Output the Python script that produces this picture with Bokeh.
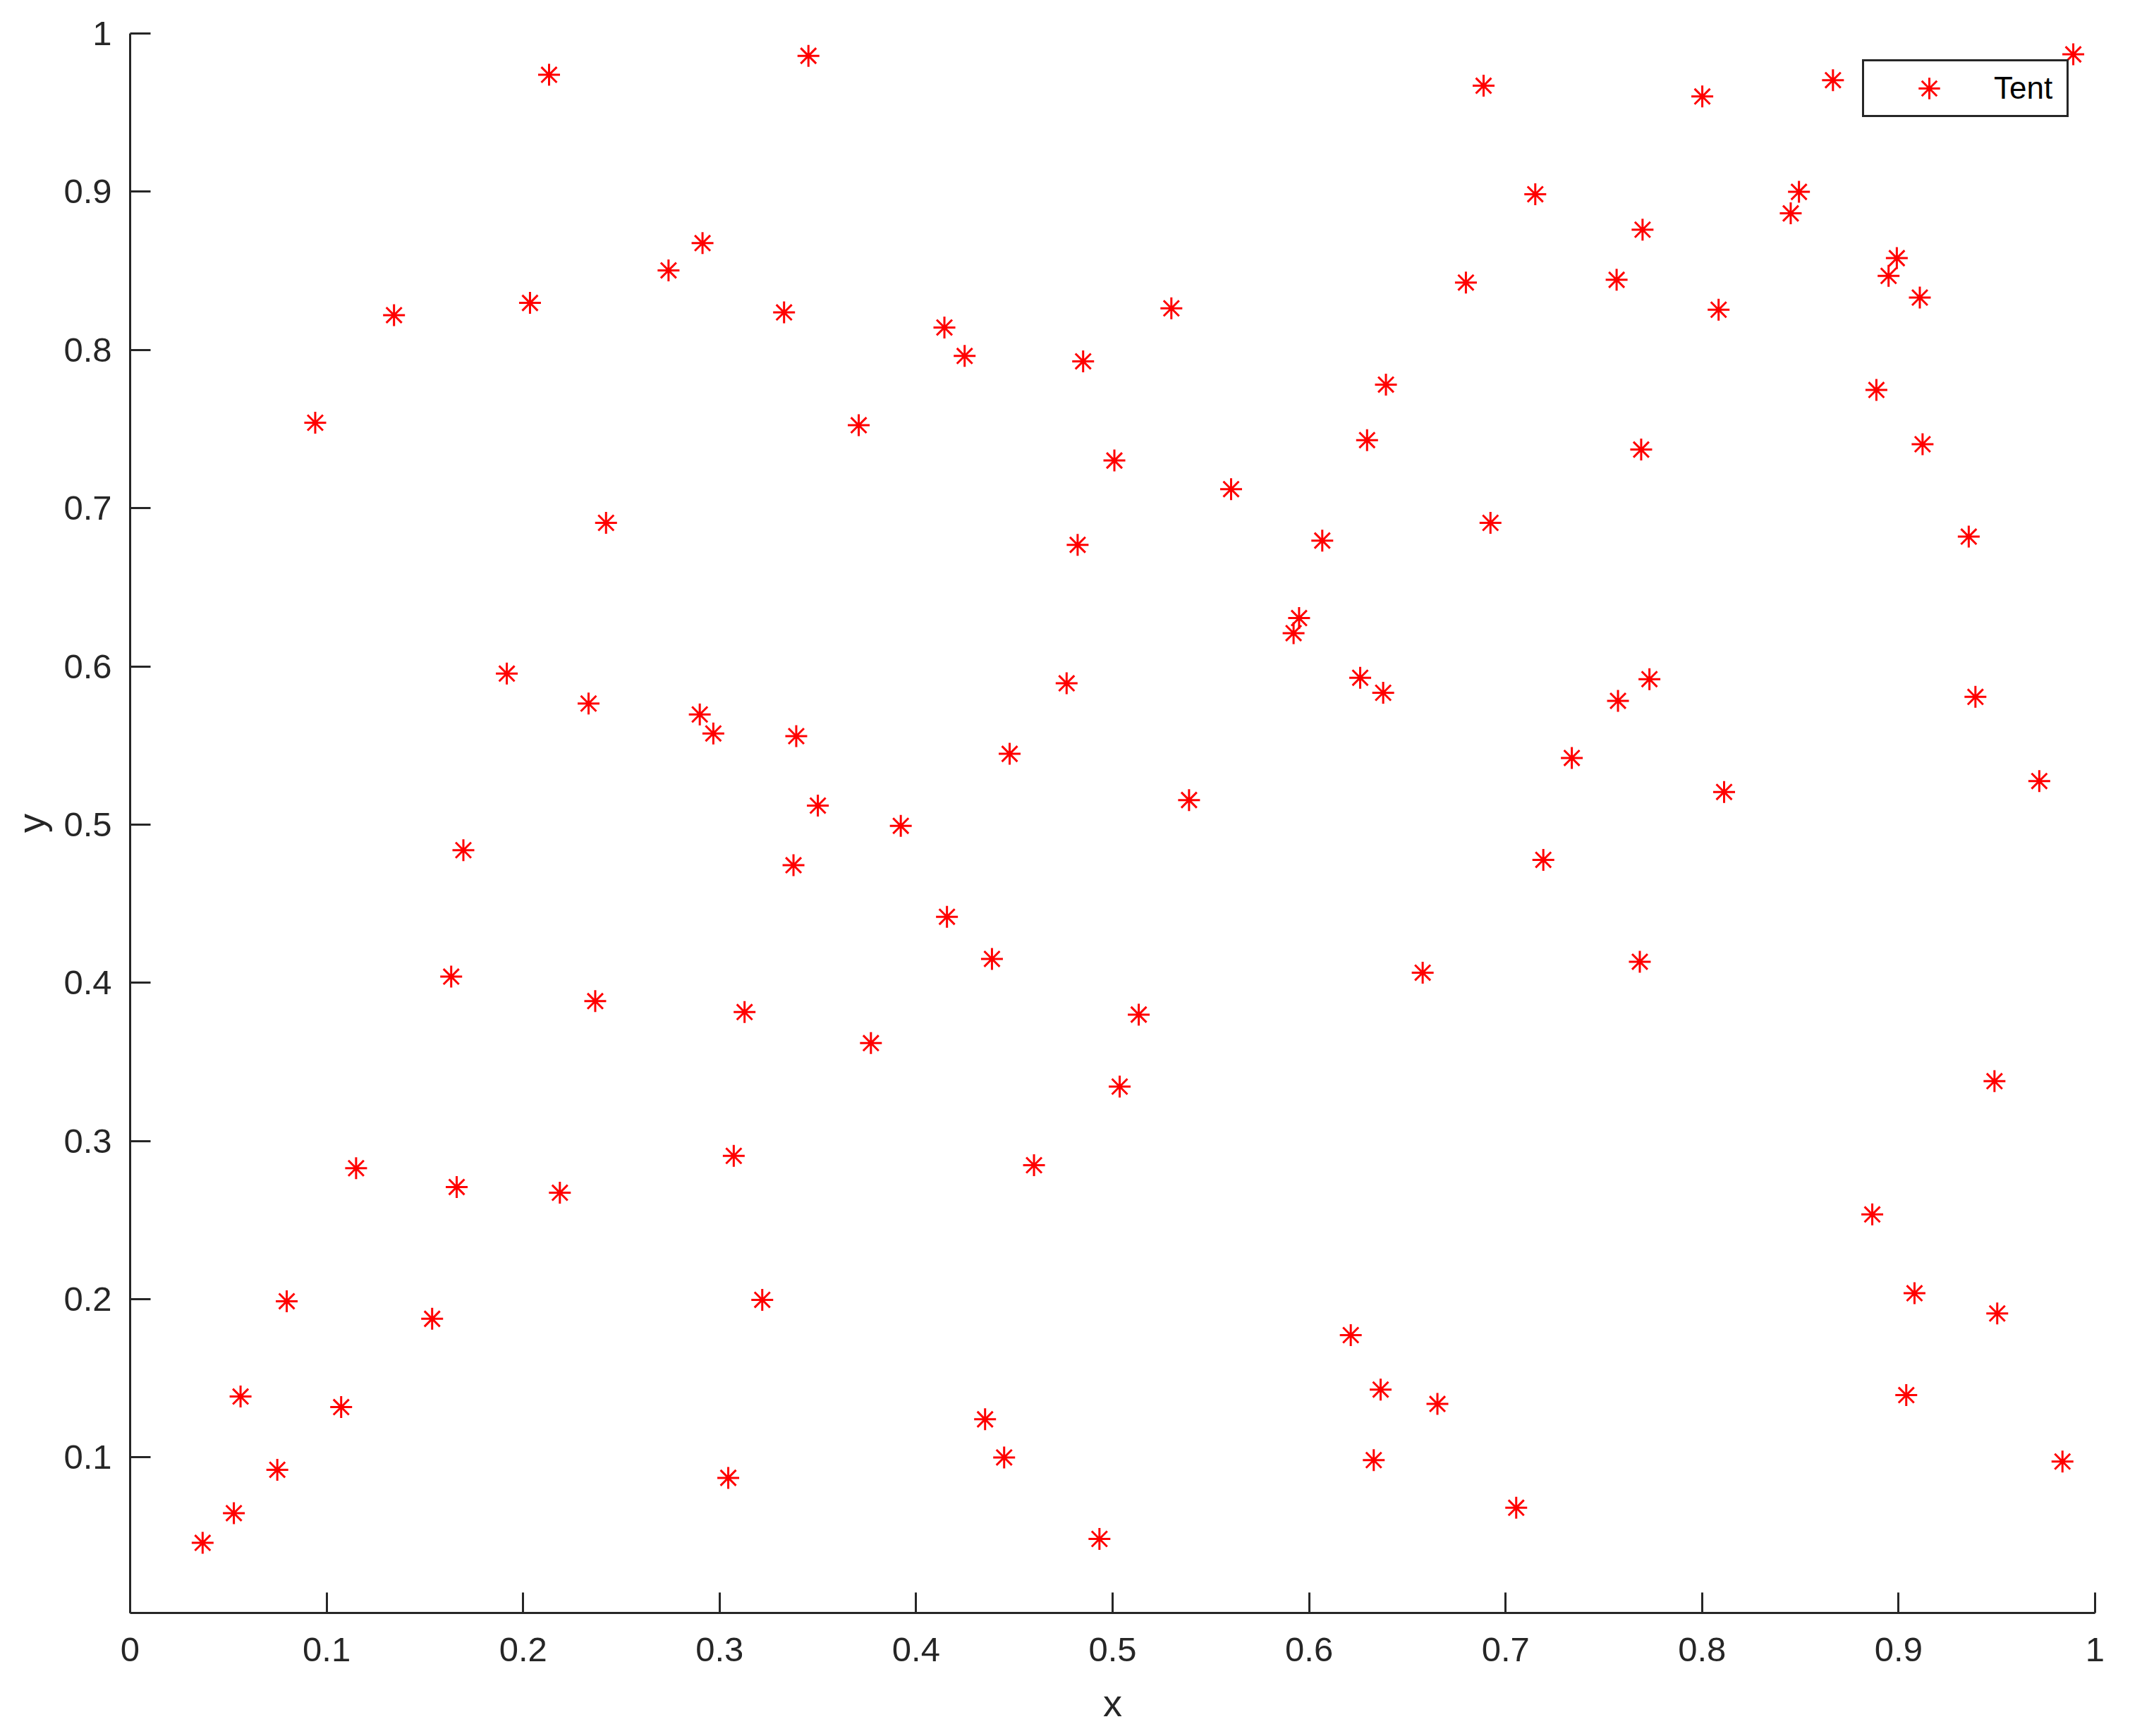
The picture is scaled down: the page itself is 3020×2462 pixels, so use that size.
from bokeh.plotting import figure
from bokeh.models import Range1d, FixedTicker, CustomJSTickFormatter, Legend, LegendItem
from bokeh.embed import file_html
from bokeh.resources import INLINE

series_name = "Tent"

x_vals = [0.0369, 0.0528, 0.0562, 0.0749, 0.0797, 0.0942, 0.1074, 0.1150, 0.1343, 0.1537,
          0.1634, 0.1662, 0.1696, 0.1917, 0.2035, 0.2132, 0.2187, 0.2333, 0.2367, 0.2422,
          0.2740, 0.2899, 0.2913, 0.2968, 0.3044, 0.3072, 0.3127, 0.3217, 0.3328, 0.3376,
          0.3390, 0.3452, 0.3500, 0.3708, 0.3770, 0.3922, 0.4144, 0.4157, 0.4247, 0.4351,
          0.4386, 0.4448, 0.4476, 0.4600, 0.4766, 0.4822, 0.4850, 0.4933, 0.5009, 0.5036,
          0.5133, 0.5299, 0.5389, 0.5603, 0.5921, 0.5949, 0.6067, 0.6212, 0.6260, 0.6295,
          0.6329, 0.6364, 0.6377, 0.6391, 0.6578, 0.6653, 0.6798, 0.6888, 0.6923, 0.7054,
          0.7151, 0.7192, 0.7337, 0.7565, 0.7572, 0.7683, 0.7690, 0.7697, 0.7732, 0.8001,
          0.8084, 0.8112, 0.8451, 0.8493, 0.8666, 0.8866, 0.8887, 0.8949, 0.8991, 0.9039,
          0.9081, 0.9108, 0.9122, 0.9357, 0.9391, 0.9488, 0.9502, 0.9716, 0.9834, 0.9889]

y_vals = [0.0460, 0.0648, 0.1385, 0.0922, 0.1987, 0.7540, 0.1318, 0.2828, 0.8220, 0.1876,
          0.4039, 0.2709, 0.4838, 0.5954, 0.8297, 0.9739, 0.2673, 0.5765, 0.3884, 0.6907,
          0.8503, 0.5696, 0.8675, 0.5576, 0.0871, 0.2906, 0.3815, 0.1996, 0.8237, 0.4743,
          0.5559, 0.9859, 0.5120, 0.7524, 0.3619, 0.4992, 0.8142, 0.4417, 0.7962, 0.1241,
          0.4151, 0.1000, 0.5447, 0.2847, 0.5893, 0.6768, 0.7928, 0.0485, 0.7301, 0.3344,
          0.3799, 0.8263, 0.5155, 0.7120, 0.6210, 0.6305, 0.6795, 0.1773, 0.5928, 0.7430,
          0.0983, 0.1429, 0.5833, 0.7781, 0.4064, 0.1338, 0.8426, 0.9670, 0.6907, 0.0682,
          0.8984, 0.4777, 0.5421, 0.8443, 0.5782, 0.4133, 0.7370, 0.8760, 0.5919, 0.9602,
          0.8254, 0.5206, 0.8863, 0.8999, 0.9705, 0.2536, 0.7747, 0.8468, 0.8580, 0.1394,
          0.2038, 0.8331, 0.7404, 0.6820, 0.5807, 0.3378, 0.1910, 0.5275, 0.0974, 0.9868]

x_ticks = [0, 0.1, 0.2, 0.3, 0.4, 0.5, 0.6, 0.7, 0.8, 0.9, 1]
y_ticks = [0.1, 0.2, 0.3, 0.4, 0.5, 0.6, 0.7, 0.8, 0.9, 1]

AX = "#262626"
FONT = "Liberation Sans"

p = figure(frame_width=2786, frame_height=2240,
           min_border_left=184, min_border_right=38, min_border_top=47, min_border_bottom=150,
           x_range=Range1d(0, 1), y_range=Range1d(0.0017, 1),
           output_backend="svg", toolbar_location=None,
           background_fill_color="white", border_fill_color="white")
p.outline_line_color = None
p.xgrid.visible = False
p.ygrid.visible = False

r = p.scatter(x_vals, y_vals, marker="asterisk", size=31,
              line_color="#FF0000", line_width=3)

fmt = CustomJSTickFormatter(code="return String(Math.round(tick*10)/10);")
p.xaxis.ticker = FixedTicker(ticks=x_ticks)
p.yaxis.ticker = FixedTicker(ticks=y_ticks)
p.xaxis.formatter = fmt
p.yaxis.formatter = fmt
p.xaxis.axis_label = "x"
p.yaxis.axis_label = "y"

for ax in (p.xaxis[0], p.yaxis[0]):
    ax.axis_line_color = AX
    ax.axis_line_width = 3
    ax.major_tick_line_color = AX
    ax.major_tick_line_width = 3
    ax.major_tick_in = 29
    ax.major_tick_out = 0
    ax.minor_tick_in = 0
    ax.minor_tick_out = 0
    ax.minor_tick_line_color = None
    ax.major_label_text_font = FONT
    ax.major_label_text_font_size = "49px"
    ax.major_label_text_color = AX
    ax.axis_label_text_font = FONT
    ax.axis_label_text_font_size = "54px"
    ax.axis_label_text_font_style = "normal"
    ax.axis_label_text_color = AX

p.xaxis.major_label_standoff = 35
p.xaxis.axis_label_standoff = 26
p.yaxis.major_label_standoff = 26
p.yaxis.axis_label_standoff = 13

legend = Legend(items=[LegendItem(label=series_name, renderers=[r])],
                location="top_right", margin=37, padding=0, spacing=0,
                glyph_width=184, glyph_height=76, label_standoff=0, label_width=103,
                label_height=76,
                label_text_font=FONT, label_text_font_size="44px", label_text_color="#000000",
                border_line_color=AX, border_line_width=3, border_line_alpha=1.0,
                background_fill_color="white", background_fill_alpha=1.0)
p.add_layout(legend)

open("out.html", "w").write(file_html(p, INLINE))
